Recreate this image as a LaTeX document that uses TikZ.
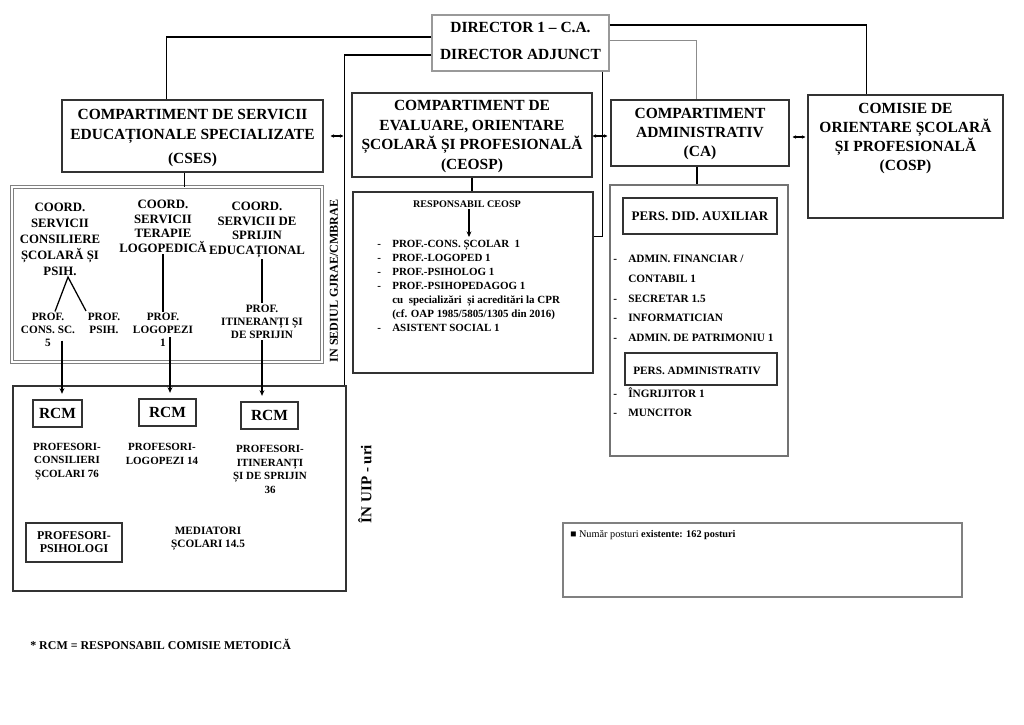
\documentclass[tikz,border=0pt]{standalone}
\usepackage{fontspec}
\setmainfont{Liberation Serif}
\usetikzlibrary{positioning, arrows.meta, calc, fit}

\newcommand{\itm}{\makebox[10.7pt][l]{-}}

\begin{document}
\begin{tikzpicture}[
        x=0.025cm, y=-0.025cm,
        frame/.style={draw=black!80, line width=0.8pt, inner sep=0pt},
        head/.style={align=center, inner sep=0pt, font=\fontsize{11}{14.2}\selectfont\bfseries},
        coordtxt/.style={align=center, inner sep=1pt, font=\fontsize{9.1}{10.3}\selectfont\bfseries},
        subtxt/.style={align=center, inner sep=1pt, font=\fontsize{8}{9.3}\selectfont\bfseries},
        uiptxt/.style={align=center, inner sep=1pt, font=\fontsize{7.8}{9.6}\selectfont\bfseries},
        rcm/.style={inner sep=0pt, font=\fontsize{11}{13}\selectfont\bfseries},
        listtxt/.style={align=left, anchor=north west, inner sep=0pt, font=\fontsize{7.8}{10}\selectfont\bfseries},
        link/.style={line width=0.9pt},
        arrow/.style={-{Stealth[length=4pt, width=3.5pt]}, line width=0.8pt},
        rcmarrow/.style={arrow, shorten >=4pt},
        dblarrow/.style={{Stealth[length=2.5pt, width=2.5pt]}-{Stealth[length=2.5pt, width=2.5pt]}, line width=0.8pt}
    ]
    \useasboundingbox (0,0) rectangle (1024,724);

    % Top: director
    \node[frame, draw=black!40, fit={(432,15) (609,71)}] (dir) {};
    \node[head] (dirtxt) at ($(dir.center)+(0,-2.5)$) {DIRECTOR 1 – C.A.\\[5pt]DIRECTOR ADJUNCT};

    % Compartments
    \node[frame, fit={(62,100) (323,172)}] (cses) {};
    \node[head] (csestxt) at ($(cses.center)+(0,2)$) {COMPARTIMENT DE SERVICII\\EDUCAȚIONALE SPECIALIZATE\\[3.5pt](CSES)};
    \node[frame, fit={(352,93) (592,177)}] (ceosp) {};
    \node[head, font=\fontsize{11}{13.8}\selectfont\bfseries] (ceosptxt) at ($(ceosp.center)+(0,1.5)$) {COMPARTIMENT DE\\EVALUARE, ORIENTARE\\ȘCOLARĂ ȘI PROFESIONALĂ\\(CEOSP)};
    \node[frame, fit={(611,100) (789,166)}] (ca) {};
    \node[head, font=\fontsize{11}{13.5}\selectfont\bfseries] (catxt) at ($(ca.center)+(0,1)$) {COMPARTIMENT\\ADMINISTRATIV\\(CA)};
    \node[frame, fit={(808,95) (1003,218)}] (cosp) {};
    \node[head, font=\fontsize{11}{13.7}\selectfont\bfseries] (cosptxt) at (905.5,138.5) {COMISIE DE\\ORIENTARE ȘCOLARĂ\\ȘI PROFESIONALĂ\\(COSP)};

    % Between compartments
    \draw[dblarrow] ($(cses.east)+(7,0)$) -- ($(ceosp.west |- cses.east)+(-8,0)$);
    \draw[dblarrow] ($(ceosp.east)+(0,1)$) -- ($(ceosp.east -| ca.west)+(-3,1)$);
    \draw[dblarrow] ($(ca.east)+(3,4)$) -- ($(ca.east -| cosp.west)+(-2,4)$);

    % CSES: coordination
    \node[fit={(12,187) (322,362)}, draw=black!50, double, double distance=1.2pt, line width=0.6pt, inner sep=0pt] (coord) {};
    \draw[link] ($(cses.south west)+(123,0)$) coordinate (cs) -- (cs |- coord.north);
    \node[rotate=90, font=\fontsize{8.6}{10}\selectfont\bfseries] (sediul) at (334,281) {IN SEDIUL GJRAE/CMBRAE};

    \node[coordtxt, font=\fontsize{9.1}{11.4}\selectfont\bfseries] (coordA) at (60,239) {COORD.\\SERVICII\\CONSILIERE\\ȘCOLARĂ ȘI\\PSIH.};
    \node[coordtxt] (coordB) at (163,226.5) {COORD.\\SERVICII\\TERAPIE\\LOGOPEDICĂ};
    \node[coordtxt] (coordC) at (257,230) {COORD.\\SERVICII DE\\SPRIJIN\\EDUCAȚIONAL};

    \node[subtxt] (profcons) at (48,330) {PROF.\\CONS. SC.\\5};
    \node[subtxt] (profpsih) at (104,323) {PROF.\\PSIH.};
    \node[subtxt] (proflogo) at (163,330) {PROF.\\LOGOPEZI\\1};
    \node[subtxt] (profitin) at (262,321.5) {PROF.\\ITINERANȚI ȘI\\DE SPRIJIN};

    \draw[link] ($(profcons.north)+(7,0)$) -- ($(coordA.south)+(8,0)$) -- ($(profpsih.north)+(-18,0)$);
    \draw[link] (coordB.south) -- (proflogo.north);
    \draw[link] (profitin.north |- coordC.south) -- (profitin.north);

    % UIP
    \node[frame, fit={(13,386) (346,591)}] (uip) {};
    \node[rotate=90, font=\fontsize{10.7}{12}\selectfont\bfseries] (uiplabel) at (365,484) {ÎN UIP - uri};

    \node[frame, fit={(33,400) (82,427)}] (rcmA) {};
    \node[frame, fit={(139,399) (196,426)}] (rcmB) {};
    \node[frame, fit={(241,402) (298,429)}] (rcmC) {};
    \node[rcm] (rcmAtxt) at (rcmA.center) {RCM};
    \node[rcm] (rcmBtxt) at (rcmB.center) {RCM};
    \node[rcm] (rcmCtxt) at (rcmC.center) {RCM};

    \draw[rcmarrow] ($(profcons.south)+(14,-8)$) coordinate (aA) -- (aA |- rcmA.north);
    \draw[rcmarrow] ($(proflogo.south)+(7,-11)$) coordinate (aB) -- (aB |- rcmB.north);
    \draw[rcmarrow] (profitin.south) -- (profitin.south |- rcmC.north);

    \node[uiptxt] (pcons) at (67,461.5) {PROFESORI-\\CONSILIERI\\ȘCOLARI 76};
    \node[uiptxt] (plogo) at (162,454) {PROFESORI-\\LOGOPEZI 14};
    \node[uiptxt] (pitin) at (270,469.5) {PROFESORI-\\ITINERANȚI\\ȘI DE SPRIJIN\\36};
    \node[frame, fit={(26,523) (122,562)}] (ppsih) {};
    \node[uiptxt, font=\fontsize{8.5}{9.3}\selectfont\bfseries] (ppsihtxt) at (ppsih.center) {PROFESORI-\\PSIHOLOGI};
    \node[uiptxt, font=\fontsize{8}{9.3}\selectfont\bfseries] (mediat) at (208,538.5) {MEDIATORI\\ȘCOLARI 14.5};

    % CEOSP: responsabil
    \node[frame, fit={(353,192) (593,373)}] (resp) {};
    \draw[link] (ceosp.south) -- (ceosp.south |- resp.north);
    \node[font=\fontsize{7.2}{9}\selectfont\bfseries, inner sep=1pt] (resptitle) at (467,204) {RESPONSABIL CEOSP};
    \coordinate (resplist) at (469,237);
    \draw[arrow] (resptitle.south -| resplist) -- (resplist);
    \node[listtxt] (resplst) at (377,240) {\itm PROF.-CONS. ȘCOLAR~~1\\
        \itm PROF.-LOGOPED 1\\
        \itm PROF.-PSIHOLOG 1\\
        \itm PROF.-PSIHOPEDAGOG 1\\
        \hspace*{10.7pt}cu~~specializări~~și acreditări la CPR\\
        \hspace*{10.7pt}(cf. OAP 1985/5805/1305 din 2016)\\
        \itm ASISTENT SOCIAL 1};

    % CA: personal
    \node[frame, draw=black!55, fit={(610,185) (788,456)}] (cain) {};
    \draw[link] ($(ca.south)+(-3,0)$) coordinate (cb) -- (cb |- cain.north);
    \node[frame, fit={(623,198) (777,234)}] (auxil) {};
    \node[inner sep=0pt, font=\fontsize{9.3}{11}\selectfont\bfseries] (auxiltxt) at (auxil.center) {PERS. DID. AUXILIAR};
    \node[listtxt, font=\fontsize{8}{14}\selectfont\bfseries] (auxlst) at (613,255) {\itm ADMIN. FINANCIAR /\\
        \hspace*{10.7pt}CONTABIL 1\\
        \itm SECRETAR 1.5\\
        \itm INFORMATICIAN\\
        \itm ADMIN. DE PATRIMONIU 1};
    \node[frame, fit={(625,353) (777,385)}] (admin) {};
    \node[inner sep=0pt, font=\fontsize{8}{10}\selectfont\bfseries] (admintxt) at ($(admin.center)+(-4,2)$) {PERS. ADMINISTRATIV};
    \node[listtxt, font=\fontsize{8}{14}\selectfont\bfseries] (admlst) at (613,387) {\itm ÎNGRIJITOR 1\\
        \itm MUNCITOR};

    % Director links
    \draw[link] ($(dir.west)+(0,-6)$) -| ($(cses.north west)+(105,0)$);
    \draw[link] ($(dir.west)+(0,12)$) -| ($(uip.north east)+(-2,0)$);
    \draw[link] ($(dir.east)+(0,-18)$) -| ($(cosp.north west)+(59,0)$);
    \draw[draw=black!45, line width=0.6pt] ($(dir.east)+(0,-3)$) -| ($(ca.north)+(-4,0)$);
    \draw[link] ($(dir.south east)+(-7,0)$) |- ($(resp.north east)+(0,45)$);

    % Note and footnote
    \node[frame, draw=black!50, fit={(563,523) (962,597)}] (note) {};
    \node[anchor=west, inner sep=0pt, font=\fontsize{7.3}{9}\selectfont] (notetxt) at (570,535) {■ Număr posturi \textbf{existente: 162 posturi}};
    \node[anchor=west, inner sep=0pt, font=\fontsize{8.5}{10}\selectfont\bfseries] (footnote) at (30,644) {* RCM = RESPONSABIL COMISIE METODICĂ};

\end{tikzpicture}
\end{document}
